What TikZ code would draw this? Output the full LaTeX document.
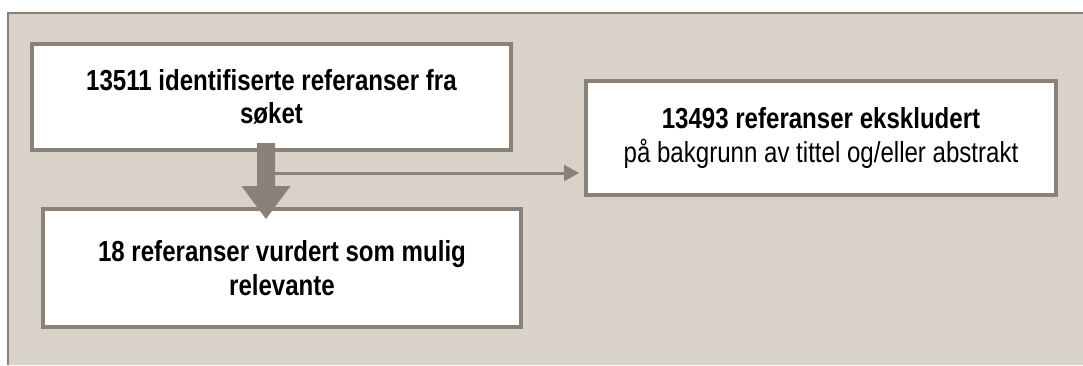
\documentclass[tikz,border=0pt]{standalone}
\usepackage{fontspec}
\setmainfont{Liberation Sans}[FakeStretch=0.83]
\usetikzlibrary{arrows.meta,calc}
\definecolor{panelbg}{RGB}{217,210,203}
\definecolor{edgecol}{RGB}{139,129,120}
\tikzset{
  box/.style={draw=edgecol, line width=4pt, fill=white, align=center, inner sep=0pt,
    font=\fontsize{29pt}{33.5pt}\selectfont},
  thinarrow/.style={draw=edgecol, line width=3pt, -{Triangle[width=16pt,length=15pt]}, shorten >=5pt},
  bigarrow/.style={fill=edgecol}
}
\begin{document}
\begin{tikzpicture}[x=1pt,y=-1pt]
\useasboundingbox (0,0) rectangle (1083,365);
\fill[white] (0,0) rectangle (1083,365);
\fill[panelbg] (8,13) rectangle (1083,365);
\draw[edgecol, line width=2pt] (8,365) -- (8,13) -- (1083,13);

\node[box, minimum width=479pt, minimum height=106pt] (box1) at (271.5,97)
  {\textbf{13511 identifiserte referanser fra}\\\textbf{søket}};
\node[box, minimum width=478pt, minimum height=118pt] (box2) at (282,268)
  {\textbf{18 referanser vurdert som mulig}\\\textbf{relevante}};
\node[box, minimum width=470pt, minimum height=114pt] (box3) at (821,138)
  {\textbf{13493 referanser ekskludert}\\på bakgrunn av tittel og/eller abstrakt};

\coordinate (branch) at (274,173);
\draw[thinarrow] (branch) -- (branch -| box3.west);

\coordinate (atop) at (266,143);
\coordinate (atip) at (266,219);
\fill[bigarrow] (atop) ++(-9,0) -- ++(18,0) -- ++(0,43) -- ++(15.5,0)
  -- (atip) -- ++(-24.5,-33) -- ++(15.5,0) -- cycle;
\end{tikzpicture}
\end{document}
